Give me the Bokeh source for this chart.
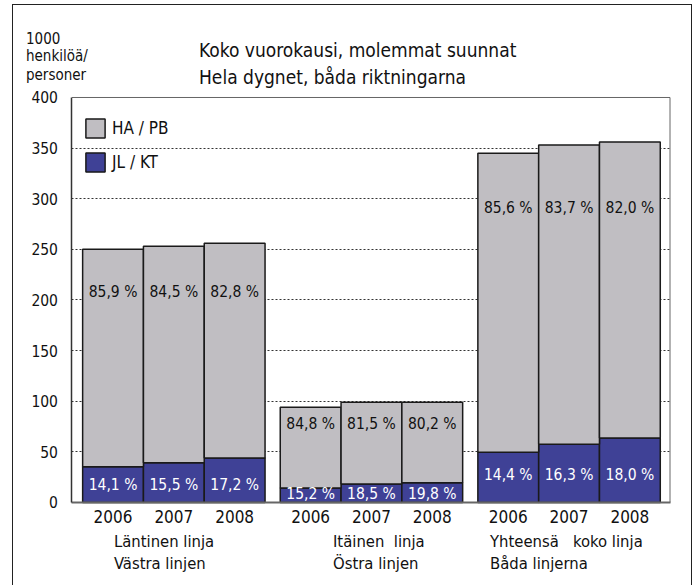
from bokeh.plotting import figure
from bokeh.layouts import column
from bokeh.models import (ColumnDataSource, Legend, LegendItem,
                          FixedTicker, Range1d)
from bokeh.core.properties import value
from bokeh.embed import file_html
from bokeh.resources import INLINE

# ---------------- data ----------------
years = ["2006", "2007", "2008"]
group_line1 = ["Läntinen linja", "Itäinen\u00a0 linja",
               "Yhteensä\u00a0\u00a0 koko linja"]
group_line2 = ["Västra linjen", "Östra linjen", "Båda linjerna"]

ha_lant = [214.7, 213.8, 212.0]
jl_lant = [35.3, 39.2, 44.0]
ha_ita = [79.7, 80.7, 79.4]
jl_ita = [14.3, 18.3, 19.6]
ha_yht = [295.4, 295.5, 292.4]
jl_yht = [49.6, 57.5, 63.6]

ha_pct = ["85,9 %", "84,5 %", "82,8 %", "84,8 %", "81,5 %", "80,2 %",
          "85,6 %", "83,7 %", "82,0 %"]
jl_pct = ["14,1 %", "15,5 %", "17,2 %", "15,2 %", "18,5 %", "19,8 %",
          "14,4 %", "16,3 %", "18,0 %"]

y_ticks = [0, 50, 100, 150, 200, 250, 300, 350, 400]

title_lines = ["Koko vuorokausi, molemmat suunnat",
               "Hela dygnet, båda riktningarna"]
unit_lines = ["1000", "henkilöä/", "personer"]

# ---------------- layout constants ----------------
FONT = "DejaVu Sans Condensed"
GRAY = "#c0bec2"
BLUE = "#3f4196"
INK = "#111111"
BAR_W = 4
GROUP_STEP = 13
X0, X1 = -0.70, 38.64          # inner plot box (x)
Y0, Y1 = 0, 400                # inner plot box (y)
pct_y_ha = [208, 78, 291]      # label heights per group
pct_y_jl = [17, 8, 27]
group_label_dx = [2.06, 3.47, 0.8]
group_label_y = [-38.7, -59.8]
title_x, title_y = 7.655, [446.9, 420.2]
unit_x, unit_y = -3.726, [458.8, 441.0, 422.2]

ha_all = ha_lant + ha_ita + ha_yht
jl_all = jl_lant + jl_ita + jl_yht
xs, tick_labels, label_y_ha, label_y_jl = [], {}, [], []
for g in range(3):
    for i in range(3):
        x = g * GROUP_STEP + i * BAR_W + BAR_W // 2
        xs.append(x)
        tick_labels[x] = years[i]
        label_y_ha.append(pct_y_ha[g])
        label_y_jl.append(pct_y_jl[g])

src = ColumnDataSource(dict(x=xs, ha=ha_all, jl=jl_all,
                            top=[a + b for a, b in zip(ha_all, jl_all)],
                            ha_pct=ha_pct, jl_pct=jl_pct,
                            yh=label_y_ha, yj=label_y_jl))

p = figure(width=678, height=580, output_backend="svg", toolbar_location=None,
           title=None,
           x_range=Range1d(-4.548, 40.054), y_range=Range1d(-81.98, 490.86),
           min_border_left=0, min_border_right=0, min_border_top=0,
           min_border_bottom=0)
p.outline_line_color = None

# grid (restricted to the inner box)
p.xgrid.grid_line_color = None
p.ygrid.ticker = FixedTicker(ticks=y_ticks[1:-1])
p.ygrid.grid_line_color = "#333333"
p.ygrid.grid_line_dash = "2 2"
p.ygrid.grid_line_width = 1
if "cross_bounds" in p.ygrid.properties():
    p.ygrid.cross_bounds = (X0, X1)
else:
    p.ygrid.grid_line_color = None
    gy = y_ticks[1:-1]
    p.segment(x0=[X0] * len(gy), x1=[X1] * len(gy), y0=gy, y1=gy,
              line_color="#333333", line_dash="2 2", line_width=1,
              level="underlay")

# inner box top/right edges
p.line(x=[X0, X1, X1], y=[Y1, Y1, Y0], line_color="#666666", line_width=1)

r_jl = p.vbar(x="x", width=BAR_W, top="jl", bottom=0, source=src,
              fill_color=BLUE, line_color="#1a1a1a", line_width=1.5)
r_ha = p.vbar(x="x", width=BAR_W, top="top", bottom="jl", source=src,
              fill_color=GRAY, line_color="#1a1a1a", line_width=1.5)

p.text(x="x", y="yh", text="ha_pct", source=src, text_align="center",
       text_baseline="middle", text_font=value(FONT), text_font_size="15.5px",
       text_color=INK)
p.text(x="x", y="yj", text="jl_pct", source=src, text_align="center",
       text_baseline="middle", text_font=value(FONT), text_font_size="15.5px",
       text_color="#ffffff")

# axes placed on the inner box
p.yaxis.fixed_location = X0
p.yaxis.bounds = (Y0, Y1)
p.yaxis.ticker = FixedTicker(ticks=y_ticks)
p.yaxis.major_tick_line_color = None
p.yaxis.major_tick_out = 0
p.yaxis.major_tick_in = 0
p.yaxis.minor_tick_line_color = None
p.yaxis.axis_line_color = "#333333"
p.yaxis.axis_line_width = 1.5
p.yaxis.major_label_text_font = FONT
p.yaxis.major_label_text_font_size = "15.5px"
p.yaxis.major_label_text_color = INK
p.yaxis.major_label_standoff = 14

p.xaxis.fixed_location = Y0
p.xaxis.bounds = (X0, X1)
p.xaxis.ticker = FixedTicker(ticks=xs)
p.xaxis.major_label_overrides = tick_labels
p.xaxis.major_tick_line_color = None
p.xaxis.major_tick_out = 0
p.xaxis.major_tick_in = 0
p.xaxis.minor_tick_line_color = None
p.xaxis.axis_line_color = "#666666"
p.xaxis.axis_line_width = 2
p.xaxis.major_label_text_font = FONT
p.xaxis.major_label_text_font_size = "17px"
p.xaxis.major_label_text_color = INK
p.xaxis.major_label_standoff = 8

# legend
legend = Legend(items=[LegendItem(label="HA / PB", renderers=[r_ha]),
                       LegendItem(label="JL / KT", renderers=[r_jl])],
                location=(70, 411), padding=0, margin=0, spacing=10,
                glyph_width=24, glyph_height=24, label_standoff=5,
                border_line_color=None, background_fill_alpha=0,
                label_text_font=FONT, label_text_font_size="17px",
                label_text_baseline="middle", label_text_color=INK)
p.add_layout(legend)

# group labels below the years
gl_x, gl_y, gl_t = [], [], []
for g in range(3):
    for k, lines in enumerate((group_line1, group_line2)):
        gl_x.append(g * GROUP_STEP + group_label_dx[g])
        gl_y.append(group_label_y[k])
        gl_t.append(lines[g])
p.text(x=gl_x, y=gl_y, text=gl_t, text_align="left", text_baseline="middle",
       text_font=value(FONT), text_font_size="16.5px", text_color=INK)

# title lines
p.text(x=[title_x] * 2, y=title_y, text=title_lines, text_align="left",
       text_baseline="middle", text_font=value(FONT), text_font_size="19px",
       text_color=INK)

# unit label above the y axis
p.text(x=[unit_x] * 3, y=unit_y, text=unit_lines, text_align="left",
       text_baseline="middle", text_font=value(FONT), text_font_size="15px",
       text_color=INK)

layout = column(p, styles={"margin-left": "12px", "margin-top": "4px",
                           "border-left": "1.5px solid #222",
                           "border-top": "1.5px solid #222",
                           "border-right": "1.5px solid #222"})

open("out.html", "w").write(file_html(layout, INLINE))
